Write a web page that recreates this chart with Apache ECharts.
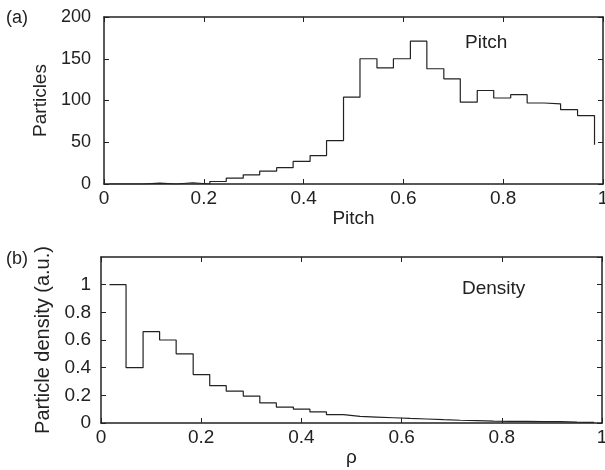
<!DOCTYPE html>
<html><head><meta charset="utf-8">
<script src="https://cdn.jsdelivr.net/npm/echarts@6/dist/echarts.min.js"></script>
<style>html,body{margin:0;padding:0;background:#fff}#c{width:605px;height:470px}</style>
</head><body><div id="c"></div>
<script>
var pitchEdges = [0.011,0.045,0.078,0.112,0.145,0.178,0.212,0.245,0.279,0.312,0.346,0.379,0.413,0.446,0.480,0.513,0.547,0.580,0.614,0.647,0.681,0.714,0.748,0.781,0.815,0.848,0.882,0.915,0.949,0.983];
var pitchCounts = [0,0,1,0,1.5,0,3,7,11,15.5,19.5,27,34,52,104,150,139,150,171,138,126,98,112,103,107,97,96,89,82,47];
var rhoEdges = [0.017,0.050,0.084,0.117,0.150,0.184,0.217,0.250,0.284,0.317,0.350,0.384,0.417,0.450,0.484,0.517,0.550,0.584,0.617,0.650,0.684,0.717,0.750,0.784,0.817,0.850,0.884,0.917,0.950,0.984];
var densityVals = [1.0,0.40,0.66,0.60,0.50,0.35,0.27,0.23,0.195,0.145,0.115,0.10,0.08,0.06,0.048,0.043,0.038,0.033,0.029,0.024,0.020,0.017,0.014,0.012,0.012,0.010,0.010,0.007,0.005,0.004];
var xTicks = ['0','0.2','0.4','0.6','0.8','1'];

function pairs(xs, ys){ return xs.map(function(x,i){return [x, ys[i]];}); }
var C = '#222';
var FONT = 'Liberation Sans, Arial, sans-serif';
function xAx(gi, pos, showLabel, name, gap, nameSize){
  return {type:'value', gridIndex:gi, position:pos, min:0, max:1, interval:0.2,
    name: name||'', nameLocation:'middle', nameGap: gap||0,
    nameTextStyle:{color:C, fontSize:nameSize||18, fontFamily:FONT},
    axisLine:{show:true, onZero:false, lineStyle:{color:C, width:1.5}},
    axisTick:{show:true, inside:true, length:5, lineStyle:{color:C, width:1}},
    axisLabel:{show:showLabel, color:C, fontSize:19, fontFamily:FONT, margin:5,
      formatter:function(v){ var s = xTicks[Math.round(v/0.2)]; return s===undefined?'':s; }},
    splitLine:{show:false}};
}
function yAx(gi, pos, showLabel, max, interval, name, gap, margin, showMax, nameSize, labelSize){
  return {type:'value', gridIndex:gi, position:pos, min:0, max:max, interval:interval,
    name: name||'', nameLocation:'middle', nameGap: gap||0,
    nameTextStyle:{color:C, fontSize:nameSize||18, fontFamily:FONT},
    axisLine:{show:true, onZero:false, lineStyle:{color:C, width:1.5}},
    axisTick:{show:true, inside:true, length:5, lineStyle:{color:C, width:1}},
    axisLabel:{show:showLabel, color:C, fontSize:labelSize||18, fontFamily:FONT, margin:margin||8, showMaxLabel:showMax},
    splitLine:{show:false}};
}
var chart = echarts.init(document.getElementById('c'), null, {renderer:'canvas'});
chart.setOption({
  animation:false,
  backgroundColor:'#fff',
  grid:[
    {left:104, top:17, width:499, height:167, containLabel:false, outerBoundsMode:'none'},
    {left:101, top:257, width:501, height:166, containLabel:false, outerBoundsMode:'none'}
  ],
  xAxis:[
    xAx(0,'bottom',true,'Pitch',22,19),
    xAx(0,'top',false),
    xAx(1,'bottom',true,'ρ',22,19),
    xAx(1,'top',false)
  ],
  yAxis:[
    yAx(0,'left',true,200,50,'Particles',50,13,true,19,18),
    yAx(0,'right',false,200,50),
    yAx(1,'left',true,1.2,0.2,'Particle density (a.u.)',43,10,false,20,19),
    yAx(1,'right',false,1.2,0.2)
  ],
  series:[
    {type:'line', xAxisIndex:0, yAxisIndex:0, step:'end', showSymbol:false, symbol:'none',
      lineStyle:{color:C, width:1.2}, data:pairs(pitchEdges,pitchCounts)},
    {type:'line', xAxisIndex:2, yAxisIndex:2, step:'end', showSymbol:false, symbol:'none',
      lineStyle:{color:C, width:1.2}, data:pairs(rhoEdges,densityVals)}
  ],
  graphic:[
    {type:'text', left:6, top:9, style:{text:'(a)', fill:C, font:'18px '+FONT}},
    {type:'text', left:6, top:250, style:{text:'(b)', fill:C, font:'18px '+FONT}},
    {type:'text', left:465, top:33, style:{text:'Pitch', fill:C, font:'19px '+FONT}},
    {type:'text', left:462, top:279, style:{text:'Density', fill:C, font:'19px '+FONT}}
  ]
});
</script></body></html>
